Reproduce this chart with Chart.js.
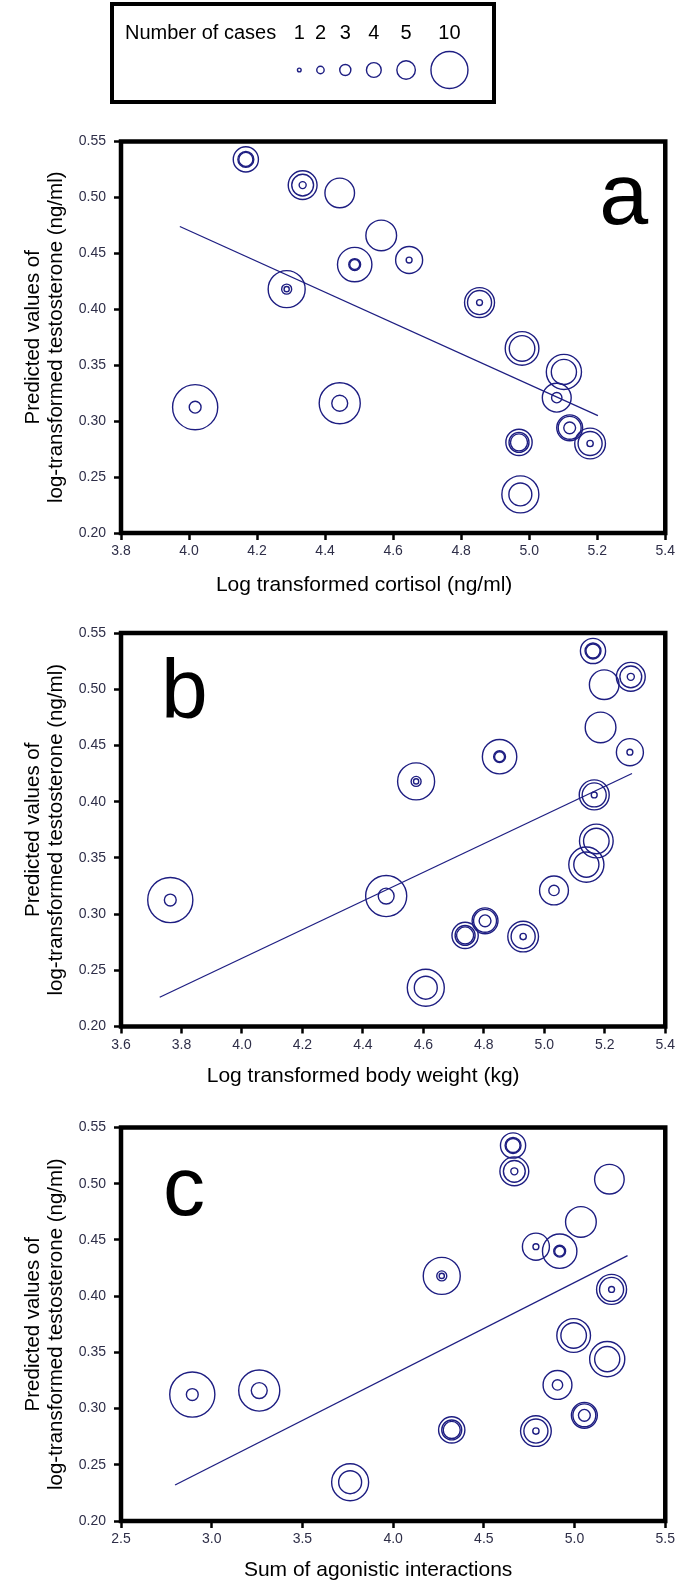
<!DOCTYPE html>
<html>
<head>
<meta charset="utf-8">
<script src="https://cdn.jsdelivr.net/npm/chart.js@4.4.1/dist/chart.umd.min.js"></script>
<style>
  html, body { margin: 0; padding: 0; background: #fff; }
  body { width: 678px; height: 1583px; position: relative; overflow: hidden; }
  canvas { position: absolute; left: 0; }
  #legend-box { position: absolute; left: 110px; top: 2px; width: 386px; height: 102px;
                border: 4.5px solid #000; box-sizing: border-box; }
</style>
</head>
<body>
<div id="legend-box"></div>
<canvas id="legend" width="678" height="106" style="top:0"></canvas>
<canvas id="panel-a" width="678" height="510" style="top:100px"></canvas>
<canvas id="panel-b" width="678" height="495" style="top:610px"></canvas>
<canvas id="panel-c" width="678" height="478" style="top:1105px"></canvas>

<script>
// Data
// one entry per subject: predicted value (shared by the three panels)
const Y_VALUES = [0.534, 0.511, 0.504, 0.466, 0.440, 0.444, 0.418, 0.406, 0.365,
                  0.344, 0.321, 0.3125, 0.316, 0.294, 0.281, 0.280, 0.2345];
const X_CORTISOL = [4.167, 4.334, 4.443, 4.565, 4.487, 4.647, 4.287, 4.854, 4.979,
                    5.102, 5.081, 4.018, 4.443, 5.119, 4.970, 5.179, 4.974];
const X_WEIGHT = [5.161, 5.286, 5.198, 5.186, 4.852, 5.283, 4.576, 5.165, 5.172,
                  5.139, 5.032, 3.763, 4.477, 4.804, 4.738, 4.930, 4.608];
const X_AGONISTIC = [4.661, 4.668, 5.192, 5.035, 4.918, 4.787, 4.268, 5.204, 4.995,
                     5.180, 4.906, 2.893, 3.262, 5.054, 4.323, 4.787, 3.763];
// concentric rings at each location, in number of cases
const RING_CASES = [[6.8, 4.3, 3.8], [7.8, 5.9, 1.9], [8], [8.3], [9.3, 3.2, 2.7],
                    [7.3, 1.6], [10, 2.7, 1.4], [8.1, 6.5, 1.6], [9.1, 6.9], [9.5, 6.8],
                    [7.8, 2.8], [12.2, 3.2], [11.1, 4.3], [7, 6.2, 3.2], [7.1, 5.4, 4.6],
                    [8.3, 6.5, 1.7], [10, 6.2]];

// fitted lines (end points)
const REG_A_X = [3.973, 5.202], REG_A_Y = [0.474, 0.305];
const REG_B_X = [3.728, 5.290], REG_B_Y = [0.226, 0.425];
const REG_C_X = [2.798, 5.292], REG_C_Y = [0.232, 0.436];

const Y_TICKS = [0.20, 0.25, 0.30, 0.35, 0.40, 0.45, 0.50, 0.55];
const X_TICKS_A = [3.8, 4.0, 4.2, 4.4, 4.6, 4.8, 5.0, 5.2, 5.4];
const X_TICKS_B = [3.6, 3.8, 4.0, 4.2, 4.4, 4.6, 4.8, 5.0, 5.2, 5.4];
const X_TICKS_C = [2.5, 3.0, 3.5, 4.0, 4.5, 5.0, 5.5];

const LEGEND_CASES = [1, 2, 3, 4, 5, 10];

// styling
const FONT = '"Liberation Sans", Arial, Helvetica, sans-serif';
const NAVY = 'rgb(30, 30, 130)';
const TICK_COLOR = '#2e2e48';
const PX_PER_CASE = 1.85;

Chart.defaults.font.family = FONT;
Chart.defaults.animation = false;
Chart.defaults.events = [];
Chart.defaults.plugins.legend.display = false;
Chart.defaults.plugins.tooltip.enabled = false;

function ringPoints(xs) {
    const pts = [];
    xs.forEach((x, i) => {
        RING_CASES[i].forEach(c => pts.push({ x: x, y: Y_VALUES[i], r: c * PX_PER_CASE }));
    });
    return pts;
}

// frame around the plot, panel letter and x axis title
const panelDecor = {
    id: 'panelDecor',
    afterDraw(chart, args, opts) {
        const { ctx, chartArea: a } = chart;
        ctx.save();
        ctx.strokeStyle = '#000';
        ctx.lineWidth = 4.5;
        ctx.strokeRect(a.left, a.top, a.right - a.left, a.bottom - a.top);
        ctx.fillStyle = '#000';
        ctx.font = opts.letterSize + 'px ' + FONT;
        ctx.textAlign = 'left';
        ctx.textBaseline = 'alphabetic';
        const x = opts.fromRight ? a.right - opts.dx : a.left + opts.dx;
        ctx.fillText(opts.letter, x, a.top + opts.dy);
        // x title, sits a little left of the plot centre in the original
        ctx.font = '21px ' + FONT;
        ctx.textAlign = 'center';
        ctx.textBaseline = 'middle';
        ctx.fillText(opts.xTitle, (a.left + a.right) / 2 + opts.titleDx, a.bottom + opts.titleDy);
        ctx.restore();
    }
};

function makePanel(id, cfg) {
    const ctx = document.getElementById(id);
    new Chart(ctx, {
        type: 'bubble',
        data: {
            datasets: [{
                data: ringPoints(cfg.xs),
                backgroundColor: 'rgba(0,0,0,0)',
                borderColor: NAVY,
                borderWidth: 1.4
            }, {
                type: 'scatter',
                data: cfg.regX.map((x, i) => ({ x: x, y: cfg.regY[i] })),
                showLine: true,
                borderColor: NAVY,
                borderWidth: 1.3,
                pointRadius: 0,
                fill: false
            }]
        },
        options: {
            responsive: false,
            layout: { autoPadding: false, padding: { left: 0, right: 11, top: cfg.padTop, bottom: 0 } },
            plugins: { panelDecor: cfg.decor },
            scales: {
                x: {
                    type: 'linear',
                    min: cfg.xTicks[0],
                    max: cfg.xTicks[cfg.xTicks.length - 1],
                    afterBuildTicks: s => { s.ticks = cfg.xTicks.map(v => ({ value: v })); },
                    afterFit: s => { s.height = cfg.xAxisHeight; },
                    ticks: {
                        autoSkip: false, maxRotation: 0, padding: 3,
                        color: TICK_COLOR, font: { size: 14 },
                        callback: v => v.toFixed(1)
                    },
                    grid: { drawOnChartArea: false, drawTicks: true, tickLength: 7,
                            tickWidth: 2.5, tickColor: '#000' },
                    border: { display: false },
                    title: { display: false }
                },
                y: {
                    type: 'linear',
                    min: Y_TICKS[0],
                    max: Y_TICKS[Y_TICKS.length - 1],
                    afterBuildTicks: s => { s.ticks = Y_TICKS.map(v => ({ value: v })); },
                    afterFit: s => { s.width = 121; },
                    ticks: {
                        padding: 8, color: TICK_COLOR, font: { size: 14 },
                        callback: v => v.toFixed(2)
                    },
                    grid: { drawOnChartArea: false, drawTicks: true, tickLength: 7,
                            tickWidth: 2.5, tickColor: '#000' },
                    border: { display: false },
                    title: {
                        display: true,
                        text: ['Predicted values of', 'log-transformed testosterone (ng/ml)'],
                        color: '#000',
                        font: { size: 20.5, lineHeight: 1.08 },
                        padding: { top: 22.7, bottom: 0 }
                    }
                }
            }
        },
        plugins: [panelDecor]
    });
}

makePanel('panel-a', {
    xs: X_CORTISOL, regX: REG_A_X, regY: REG_A_Y, xTicks: X_TICKS_A,
    padTop: 41.5, xAxisHeight: 77,
    decor: { letter: 'a', letterSize: 88, fromRight: true, dx: 66, dy: 82,
             xTitle: 'Log transformed cortisol (ng/ml)', titleDx: -29, titleDy: 52 }
});
makePanel('panel-b', {
    xs: X_WEIGHT, regX: REG_B_X, regY: REG_B_Y, xTicks: X_TICKS_B,
    padTop: 23, xAxisHeight: 78.5,
    decor: { letter: 'b', letterSize: 84, fromRight: false, dx: 40, dy: 85,
             xTitle: 'Log transformed body weight (kg)', titleDx: -30, titleDy: 50 }
});
makePanel('panel-c', {
    xs: X_AGONISTIC, regX: REG_C_X, regY: REG_C_Y, xTicks: X_TICKS_C,
    padTop: 22.5, xAxisHeight: 62,
    decor: { letter: 'c', letterSize: 84, fromRight: false, dx: 42, dy: 87.5,
             xTitle: 'Sum of agonistic interactions', titleDx: -15, titleDy: 49 }
});

// legend of ring sizes
const LEGEND_START = 299.3, LEGEND_GAP = 15.6;
const legendPts = [];
LEGEND_CASES.forEach((c, i) => {
    const r = c * PX_PER_CASE;
    const x = i === 0 ? LEGEND_START
        : legendPts[i - 1].x + legendPts[i - 1].r + LEGEND_GAP + r;
    legendPts.push({ x: x, y: 70, r: r });
});

const legendText = {
    id: 'legendText',
    afterDraw(chart) {
        const ctx = chart.ctx;
        const meta = chart.getDatasetMeta(0);
        ctx.save();
        ctx.fillStyle = '#000';
        ctx.font = '20px ' + FONT;
        ctx.textBaseline = 'middle';
        ctx.textAlign = 'left';
        ctx.fillText('Number of cases', 125, 33);
        ctx.textAlign = 'center';
        meta.data.forEach((el, i) => ctx.fillText(String(LEGEND_CASES[i]), el.x, 33));
        ctx.restore();
    }
};

new Chart(document.getElementById('legend'), {
    type: 'bubble',
    data: {
        datasets: [{
            data: legendPts,
            backgroundColor: 'rgba(0,0,0,0)',
            borderColor: NAVY,
            borderWidth: 1.4
        }]
    },
    options: {
        responsive: false,
        layout: { autoPadding: false, padding: 0 },
        scales: {
            x: { display: false, type: 'linear', min: 0, max: 678 },
            y: { display: false, type: 'linear', min: 0, max: 106, reverse: true }
        }
    },
    plugins: [legendText]
});
</script>
</body>
</html>
